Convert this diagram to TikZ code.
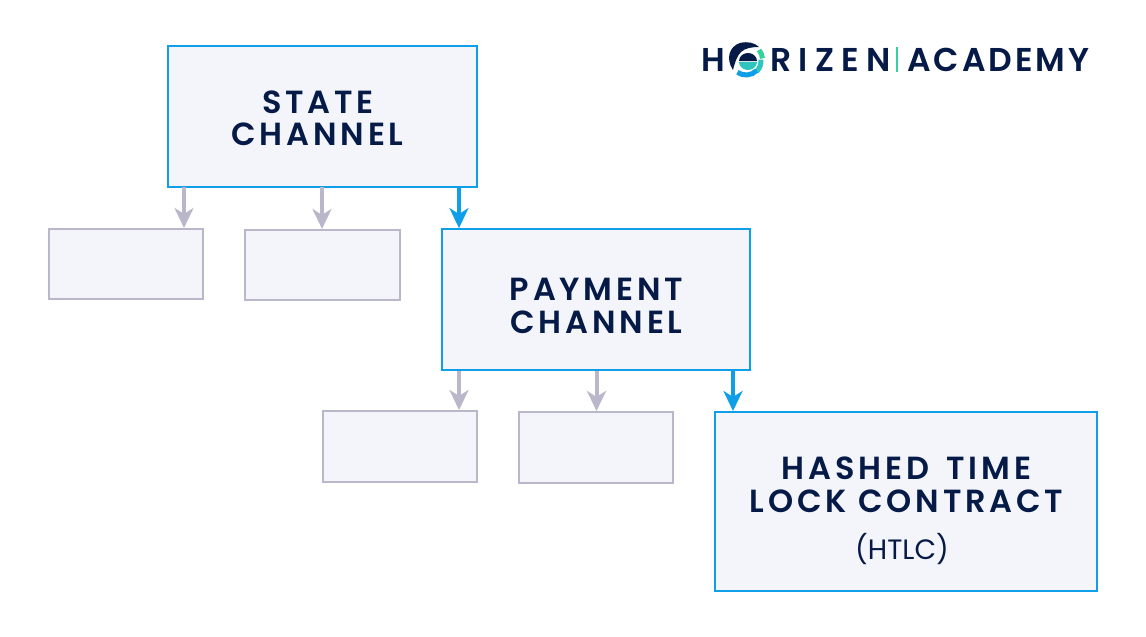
\documentclass[tikz,border=0pt]{standalone}
\usepackage{fontspec}
\setmainfont{Poppins}
\newfontfamily\boxfont[LetterSpace=12]{Poppins SemiBold}
\newfontfamily\plainfont{Poppins}
\newfontfamily\logofont[LetterSpace=9]{Poppins SemiBold}
\newfontfamily\logowide[LetterSpace=22]{Poppins SemiBold}
\definecolor{navy}{HTML}{051A47}
\definecolor{cyanb}{HTML}{0E9FE8}
\definecolor{greyb}{HTML}{B9B7C9}
\definecolor{fillb}{HTML}{F4F5FA}
\definecolor{tealb}{HTML}{2FC4BE}
\definecolor{greenb}{HTML}{35D39B}
\usetikzlibrary{arrows.meta}
\tikzset{
  x=1pt,y=-1pt,
  bluebox/.style={draw=cyanb,fill=fillb,line width=2pt,inner sep=0pt},
  greybox/.style={draw=greyb,fill=fillb,line width=2pt,inner sep=0pt},
  boxtext/.style={text=navy,font=\boxfont\fontsize{32}{33}\selectfont,align=center,inner sep=0pt},
  bluearrow/.style={draw=cyanb,line width=4pt,-{Stealth[length=20pt,width=19pt,inset=6pt]}},
  greyarrow/.style={draw=greyb,line width=4pt,-{Stealth[length=20pt,width=19pt,inset=6pt]}},
  logotext/.style={text=navy,inner sep=0pt},
}
\begin{document}
\begin{tikzpicture}
\useasboundingbox (0,0) rectangle (1146,637);
\fill[white] (0,0) rectangle (1146,637);
\node[bluebox,minimum width=309pt,minimum height=141pt] (state) at (322.5,116.5) {};
\node[greybox,minimum width=154.5pt,minimum height=70.5pt] (s1) at (126.2,264.2) {};
\node[greybox,minimum width=155pt,minimum height=70.5pt] (s2) at (322.5,265.2) {};
\node[bluebox,minimum width=308.5pt,minimum height=141pt] (pay) at (595.8,299.6) {};
\node[greybox,minimum width=154.5pt,minimum height=71pt] (s3) at (399.8,446.5) {};
\node[greybox,minimum width=154.5pt,minimum height=71pt] (s4) at (595.8,447.5) {};
\node[bluebox,minimum width=382pt,minimum height=179pt] (htlc) at (906,501.5) {};
\node[boxtext] (t1a) at (318,102) {STATE};
\node[boxtext] (t1b) at (317.5,134.5) {CHANNEL};
\node[boxtext] (t2a) at (596.5,289) {PAYMENT};
\node[boxtext] (t2b) at (596.5,322) {CHANNEL};
\node[boxtext] (t3a) at (906.5,468) {HASHED\hspace{6pt} TIME};
\node[boxtext] (t3b) at (906.5,501) {LOCK CONTRACT};
\node[text=navy,font=\plainfont\fontsize{28}{30}\selectfont,inner sep=0pt] (t3c) at (902,549) {(HTLC)};
\coordinate (a1) at (184,187);
\coordinate (a2) at (322,187);
\coordinate (a3) at (459,187);
\coordinate (a4) at (459,371);
\coordinate (a5) at (596.5,371);
\coordinate (a6) at (733,371);
\draw[greyarrow] (a1) -- (a1 |- s1.north);
\draw[greyarrow] (a2) -- (a2 |- s2.north);
\draw[bluearrow] (a3) -- (a3 |- pay.north);
\draw[greyarrow] (a4) -- (a4 |- s3.north);
\draw[greyarrow] (a5) -- (a5 |- s4.north);
\draw[bluearrow] (a6) -- (a6 |- htlc.north);
% logo
\node[logotext,font=\logofont\fontsize{33}{34}\selectfont,anchor=west] (lh) at (701,60) {H};
\node[logotext,font=\logowide\fontsize{33}{34}\selectfont,anchor=west] (lr) at (770,60) {RIZEN};
\node[logotext,font=\logofont\fontsize{33}{34}\selectfont,anchor=west] (la) at (907,60) {ACADEMY};
\draw[greenb,line width=1.3pt] (897,47) -- (897,72);
% logo mark
\fill[navy] (733,70) .. controls (725,58) and (730,46) .. (740,43) .. controls (748,41) and (755,43) .. (759,47)
  .. controls (752,47) and (745,48) .. (741,52) .. controls (737,56) and (735,62) .. (733,70) -- cycle;
\fill[navy] (739,61) arc[start angle=180,end angle=360,radius=9pt,y radius=-8pt] -- cycle;
\fill[tealb] (739,62) -- (757,62) arc[start angle=0,end angle=-180,radius=9pt,y radius=8pt] -- cycle;
\draw[greenb,line width=5pt] (759,50) arc[start angle=40,end angle=5,radius=15pt];
\draw[tealb,line width=5pt] (760.9,59.6) arc[start angle=5,end angle=-45,radius=15pt];
\draw[cyanb,line width=5pt] (756.6,70.6) arc[start angle=-45,end angle=-125,radius=15pt];
\end{tikzpicture}
\end{document}
